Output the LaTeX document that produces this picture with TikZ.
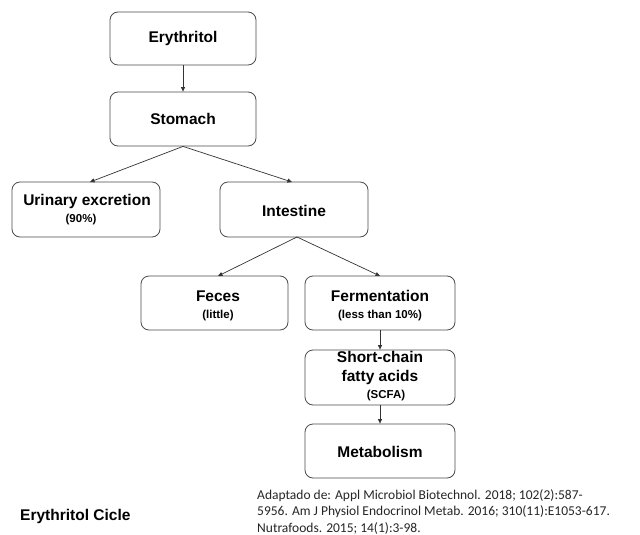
\documentclass[tikz,border=0pt]{standalone}
\usepackage{fontspec}
\setmainfont{Liberation Sans}
\newfontfamily\citefont{Carlito}
\usetikzlibrary{arrows.meta}
\begin{document}
\begin{tikzpicture}[x=1pt,y=-1pt,
  box/.style={draw=black!70,line width=0.8pt,rounded corners=8pt,fill=white,align=center,inner sep=0pt},
  arr/.style={draw=black!80,line width=0.7pt,-{Triangle[length=4.5pt,width=4pt]}},
  main/.style={font=\bfseries\fontsize{15.5}{19}\selectfont,inner sep=0pt},
  sub/.style={font=\bfseries\fontsize{11.5}{13}\selectfont,inner sep=0pt}]
\useasboundingbox[fill=white] (0,0) rectangle (640,535);
\node[box,minimum width=146pt,minimum height=53pt] (ery) at (183,38.5) {};
\node[main] at (ery) {Erythritol};
\node[box,minimum width=146pt,minimum height=54pt] (sto) at (183,119) {};
\node[main] at (sto) {Stomach};
\node[box,minimum width=148pt,minimum height=55pt] (uri) at (86,209.5) {};
\node[main] at (87,201) {Urinary excretion};
\node[sub] at (81,220) {(90\%)};
\node[box,minimum width=148pt,minimum height=55pt] (int) at (294,209.5) {};
\node[main] at (294,211) {Intestine};
\node[box,minimum width=147pt,minimum height=54pt] (fec) at (214.5,303) {};
\node[main] at (218,296) {Feces};
\node[sub] at (218,316) {(little)};
\node[box,minimum width=150pt,minimum height=54pt] (fer) at (380,303) {};
\node[main] at (380,296) {Fermentation};
\node[sub] at (380,316) {(less than 10\%)};
\node[box,minimum width=150pt,minimum height=55pt] (scfa) at (380,377.5) {};
\node[main,align=center] at (380,368) {Short-chain\\fatty acids};
\node[sub] at (386,396) {(SCFA)};
\node[box,minimum width=150pt,minimum height=54pt] (met) at (380,451) {};
\node[main] at (380,452) {Metabolism};
\node[font=\bfseries\fontsize{15.5}{18}\selectfont,anchor=west,inner sep=0pt] (title) at (20,516) {Erythritol Cicle};
\node[font=\citefont\fontsize{13.5}{16.5}\selectfont,anchor=north west,align=left,inner sep=0pt,text=black!85] (cite) at (257,489) {Adaptado de: Appl Microbiol Biotechnol. 2018; 102(2):587-\\5956. Am J Physiol Endocrinol Metab. 2016; 310(11):E1053-617.\\Nutrafoods. 2015; 14(1):3-98.};
\draw[arr] (ery.south) -- (sto.north);
\draw[arr] (sto.south) -- (90,182);
\draw[arr] (sto.south) -- (292,182);
\draw[arr] (297,237) -- (218,276);
\draw[arr] (297,237) -- (380,276);
\draw[arr] (fer.south) -- (scfa.north);
\draw[arr] (scfa.south) -- (met.north);
\end{tikzpicture}
\end{document}
